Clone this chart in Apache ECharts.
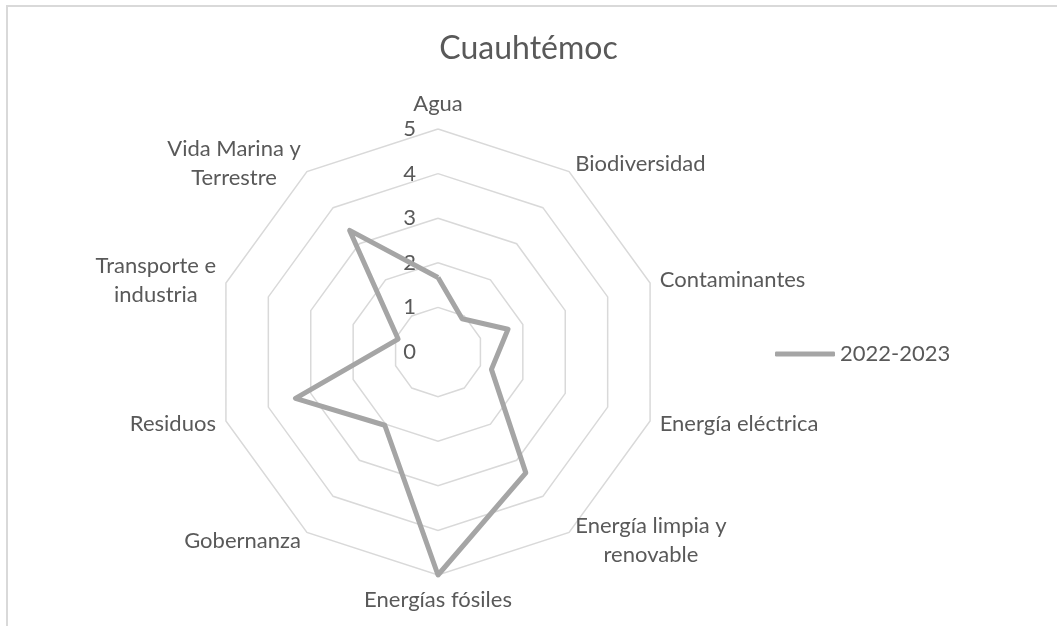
<!DOCTYPE html>
<html>
<head>
<meta charset="utf-8">
<script src="https://cdn.jsdelivr.net/npm/echarts@6/dist/echarts.min.js"></script>
<style>
html,body{margin:0;padding:0;background:#fff;overflow:hidden;}
#frame{position:absolute;left:6px;top:5px;width:1200px;height:800px;border:2px solid #d9d9d9;}
#main{position:absolute;left:0;top:0;width:1057px;height:626px;}
</style>
</head>
<body>
<div id="frame"></div>
<div id="main"></div>
<script>
var categories = ['Agua', 'Biodiversidad', 'Contaminantes', 'Energía eléctrica', 'Energía limpia y\nrenovable',
    'Energías fósiles', 'Gobernanza', 'Residuos', 'Transporte e\nindustria', 'Vida Marina y\nTerrestre'];
var values2022 = [1.67, 0.92, 1.65, 1.26, 3.35, 5, 2.03, 3.36, 0.94, 3.37];
var seriesName = '2022-2023';
var maxValue = 5;

var main = document.getElementById('main');
var mychart = echarts.init(main);
var fontName = 'Lato';
var fontSize = 22;
var textColor = '#595959';

// radar goes counter-clockwise, excel goes clockwise -> keep first, reverse the rest
var order = [0];
for (var k = categories.length - 1; k > 0; k--) order.push(k);

// multi-line names: center each line like excel does
var ctx = document.createElement('canvas').getContext('2d');
ctx.font = fontSize + 'px ' + fontName;
var rich = {};
categories.forEach(function (c, i) {
    var w = Math.max.apply(null, c.split('\n').map(function (l) { return ctx.measureText(l).width; }));
    rich['w' + i] = {width: Math.ceil(w), align: 'center', fontFamily: fontName, fontSize: fontSize,
        color: textColor, lineHeight: 29};
});

var indicators = order.map(function (i) {
    var ind = {name: categories[i], min: 0, max: maxValue};
    if (i === 0) ind.axisLabel = {show: true};  // numbers only on first axis
    return ind;
});

var option = {
    animation: false,
    title: {text: 'Cuauhtémoc', left: 'center', top: 28,
        textStyle: {fontFamily: fontName, fontSize: 32, fontWeight: 'normal', color: textColor}},
    legend: {data: [seriesName], left: 770, top: 338, itemWidth: 60, itemHeight: 5, itemGap: 4,
        textStyle: {fontFamily: fontName, fontSize: fontSize, color: textColor}},
    radar: {
        center: [438, 352],
        radius: 223,
        startAngle: 90,
        splitNumber: 5,
        shape: 'polygon',
        axisName: {
            color: textColor, fontFamily: fontName, fontSize: fontSize, lineHeight: 29,
            formatter: function (name) {
                var i = categories.indexOf(name);
                return name.split('\n').map(function (l) { return '{w' + i + '|' + l + '}'; }).join('\n');
            },
            rich: rich
        },
        nameGap: 10,
        splitLine: {lineStyle: {color: '#d9d9d9', width: 1.5}},
        splitArea: {show: false},
        axisLine: {show: false},
        axisTick: {show: false},
        axisLabel: {show: false, color: textColor, fontFamily: fontName, fontSize: fontSize, margin: 22},
        indicator: indicators
    },
    series: [{
        name: seriesName,
        type: 'radar',
        symbol: 'none',
        lineStyle: {color: '#a5a5a5', width: 5},
        itemStyle: {color: '#a5a5a5'},
        data: [{value: order.map(function (i) { return values2022[i]; }), name: seriesName}]
    }]
};
mychart.setOption(option);
</script>
</body>
</html>
